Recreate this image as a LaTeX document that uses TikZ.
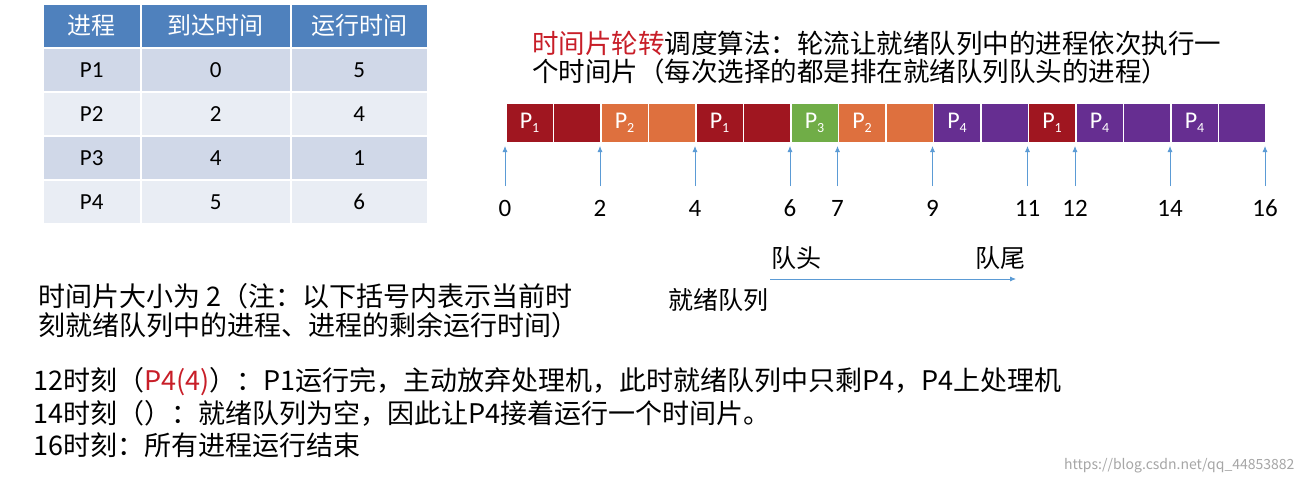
\documentclass[tikz,border=0pt]{standalone}
\usepackage{fontspec}
\setmainfont{Noto Sans CJK SC}
\newfontfamily\latinf{Carlito}
\definecolor{hdr}{RGB}{79,129,189}
\definecolor{rowa}{RGB}{208,216,232}
\definecolor{rowb}{RGB}{233,237,244}
\definecolor{pa}{RGB}{160,22,32}
\definecolor{pb}{RGB}{222,112,62}
\definecolor{pc}{RGB}{112,173,71}
\definecolor{pd}{RGB}{102,46,145}
\definecolor{arr}{RGB}{91,155,213}
\definecolor{redt}{RGB}{200,30,40}
\newcommand{\pl}[1]{P\raisebox{-0.35ex}{\fontsize{14}{14}\selectfont #1}}
\begin{document}
\begin{tikzpicture}[x=1pt,y=-1pt,
  cell/.style={draw=white,line width=1.5pt,minimum height=40pt,inner sep=0pt,anchor=north west,text=white,font=\latinf\fontsize{24}{24}\selectfont},
  tcell/.style={draw=white,line width=1.5pt,inner sep=0pt,anchor=north west,font=\latinf\fontsize{23}{23}\selectfont},
  tick/.style={draw=arr,line width=0.8pt,-{Latex[length=6pt,width=5pt]}},
  num/.style={font=\latinf\fontsize{25}{25}\selectfont},
  txt/.style={anchor=west,font=\fontsize{27}{27}\selectfont,inner sep=0pt},
  qtxt/.style={font=\fontsize{25}{25}\selectfont}]
\usetikzlibrary{arrows.meta}
\useasboundingbox (0,0) rectangle (1306,482);
\fill[white] (0,0) rectangle (1306,482);
% table
\foreach \x/\w/\t [count=\i] in {42/98/进程,140/150/到达时间,290/137/运行时间}
  \node[tcell,fill=hdr,text=white,minimum width=\w pt,minimum height=44pt,font=\fontsize{24}{24}\selectfont] (h\i) at (\x,3) {\t};
\foreach \y/\c/\a/\b/\r [count=\j] in {47/rowa/P1/0/5,91/rowb/P2/2/4,135/rowa/P3/4/1,179/rowb/P4/5/6}{
  \node[tcell,fill=\c,minimum width=98pt,minimum height=44pt] (ra\j) at (42,\y) {\a};
  \node[tcell,fill=\c,minimum width=150pt,minimum height=44pt] (rb\j) at (140,\y) {\b};
  \node[tcell,fill=\c,minimum width=137pt,minimum height=44pt] (rc\j) at (290,\y) {\r};
}
% title
\node[anchor=west,inner sep=0pt,font=\fontsize{26.5}{26.5}\selectfont] (t1) at (532,43) {\textcolor{redt}{时间片轮转}调度算法：轮流让就绪队列中的进程依次执行一};
\node[anchor=west,inner sep=0pt,font=\fontsize{26.5}{26.5}\selectfont] (t2) at (532,71) {个时间片（每次选择的都是排在就绪队列队头的进程）};
% gantt
\foreach \s/\c/\l in {0/pa/{\pl1},1/pa/{},2/pb/{\pl2},3/pb/{},4/pa/{\pl1},5/pa/{},6/pc/{\pl3},7/pb/{\pl2},8/pb/{},9/pd/{\pl4},10/pd/{},11/pa/{\pl1},12/pd/{\pl4},13/pd/{},14/pd/{\pl4},15/pd/{}}
  \node[cell,fill=\c,minimum width=47.5pt] (g\s) at (505+47.5*\s,102) {\l};
\foreach \t in {0,2,4,6,7,9,11,12,14,16}{
  \coordinate (b\t) at (505+47.5*\t,186);
  \coordinate (e\t) at (505+47.5*\t,146);
  \draw[tick] (b\t) -- (e\t);
  \node[num] (n\t) at (505+47.5*\t,208) {\t};
}
% queue
\node[qtxt] (qh) at (796,258) {队头};
\node[qtxt] (qt) at (1000,258) {队尾};
\node[qtxt] (ql) at (718,300) {就绪队列};
\coordinate (qa) at (770,279); \coordinate (qb) at (1016,279);
\draw[tick] (qa) -- (qb);
% texts
\node[txt] (l1) at (38,296) {时间片大小为 2（注：以下括号内表示当前时};
\node[txt] (l2) at (38,325) {刻就绪队列中的进程、进程的剩余运行时间）};
\node[txt] (l3) at (33,382) {12时刻（\textcolor{redt}{P4(4)}）：P1运行完，主动放弃处理机，此时就绪队列中只剩P4，P4上处理机};
\node[txt] (l4) at (33,413) {14时刻（）：就绪队列为空，因此让P4接着运行一个时间片。};
\node[txt] (l5) at (33,445) {16时刻：所有进程运行结束};
\node[anchor=east,text=black!35,font=\fontsize{14}{14}\selectfont] (wm) at (1298,466) {https://blog.csdn.net/qq\_44853882};
\end{tikzpicture}
\end{document}
